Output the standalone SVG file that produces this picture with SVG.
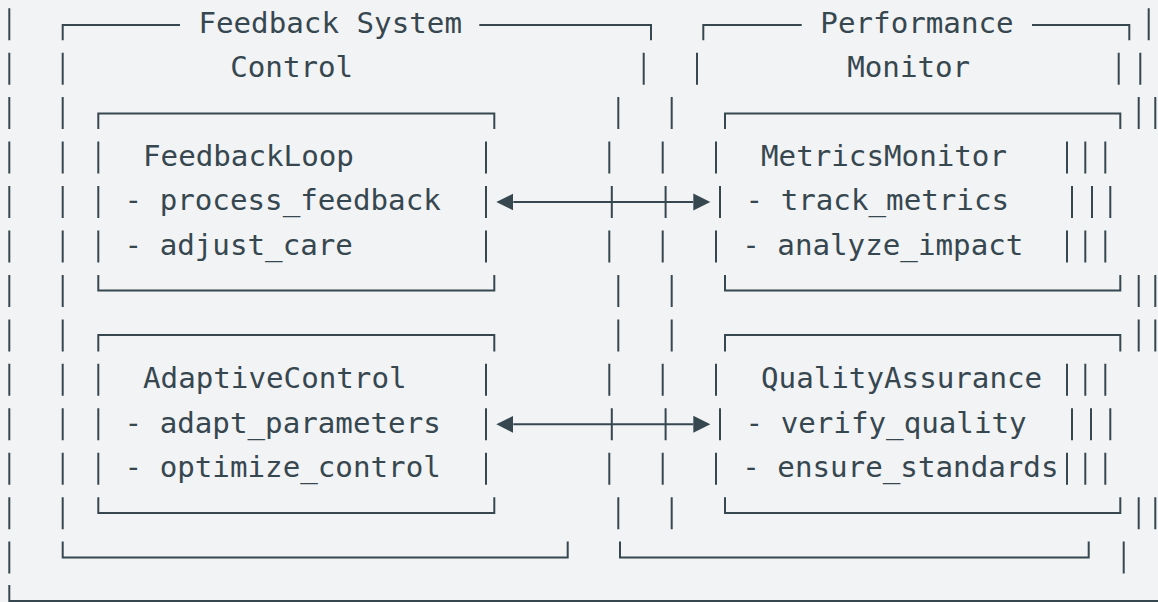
<svg xmlns="http://www.w3.org/2000/svg" width="1158" height="602" viewBox="0 0 1158 602">
  <style>
    .ln { fill: none; stroke: #37474f; stroke-width: 2; stroke-linecap: butt; }
    .tx { font-family: "DejaVu Sans Mono", "Liberation Mono", monospace; font-size: 29.2px; fill: #37474f; }
    .mid { text-anchor: middle; }
    .conn { stroke: #37474f; stroke-width: 2; fill: none; }
  </style>
  <defs>
    <marker id="arrow" markerUnits="userSpaceOnUse" markerWidth="18" markerHeight="18" viewBox="0 -9 18 18" refX="0" refY="0" orient="auto-start-reverse">
      <path d="M0,-8.5 L17,0 L0,8.5 z" fill="#37474f"/>
    </marker>
  </defs>
  <rect x="0" y="0" width="1158" height="602" fill="#f1f3f5"/>

  <g id="outer-frame">
    <path class="ln" d="M9.3 8.2V40.2 M9.3 52.7V84.7 M9.3 97.1V129.1 M9.3 141.6V173.6 M9.3 186V218 M9.3 230.5V262.5 M9.3 274.9V306.9 M9.3 319.4V351.4 M9.3 363.8V395.8 M9.3 408.3V440.3 M9.3 452.7V484.7 M9.3 497.2V529.2 M9.3 541.6V573.6 M9.3 585V601H1158"/>
    <path class="ln" d="M1148.7 8.2V40.2 M1140.3 52.7V84.7 M1155.3 97.1V129.1 M1105.3 141.6V173.6 M1110.3 186V218 M1105.3 230.5V262.5 M1155.3 274.9V306.9 M1155.3 319.4V351.4 M1105.3 363.8V395.8 M1110.3 408.3V440.3 M1105.3 452.7V484.7 M1155.3 497.2V529.2 M1123.7 541.6V573.6"/>
  </g>

  <g id="feedback-system-control">
    <path class="ln" d="M62.7 40.2V25H180 M479.3 25H651V40.2"/>
    <path class="ln" d="M62.7 52.7V84.7 M62.7 97.1V129.1 M62.7 141.6V173.6 M62.7 186V218 M62.7 230.5V262.5 M62.7 274.9V306.9 M62.7 319.4V351.4 M62.7 363.8V395.8 M62.7 408.3V440.3 M62.7 452.7V484.7 M62.7 497.2V529.2"/>
    <path class="ln" d="M643.7 52.7V84.7 M618.3 97.1V129.1 M609.3 141.6V173.6 M611.8 186V218 M609.3 230.5V262.5 M618.3 274.9V306.9 M618.3 319.4V351.4 M609.3 363.8V395.8 M611.8 408.3V440.3 M609.3 452.7V484.7 M618.3 497.2V529.2"/>
    <path class="ln" d="M62.7 541.6V557.5H567.7V541.6"/>
    <text class="tx mid" x="330.2" y="32.5">Feedback System</text>
    <text class="tx mid" x="291.7" y="77">Control</text>
  </g>

  <g id="performance-monitor">
    <path class="ln" d="M703.3 40.2V25H801.7 M1032 25H1129.3V40.2"/>
    <path class="ln" d="M697 52.7V84.7 M671.7 97.1V129.1 M662.7 141.6V173.6 M665.6 186V218 M662.7 230.5V262.5 M671.7 274.9V306.9 M671.7 319.4V351.4 M662.7 363.8V395.8 M665.6 408.3V440.3 M662.7 452.7V484.7 M671.7 497.2V529.2"/>
    <path class="ln" d="M1118.7 52.7V84.7 M1138.7 97.1V129.1 M1085.3 141.6V173.6 M1092 186V218 M1085.3 230.5V262.5 M1138.7 274.9V306.9 M1138.7 319.4V351.4 M1085.3 363.8V395.8 M1091 408.3V440.3 M1085.3 452.7V484.7 M1138.7 497.2V529.2"/>
    <path class="ln" d="M620 541.6V557.5H1088.7V541.6"/>
    <text class="tx mid" x="917" y="32.5">Performance</text>
    <text class="tx mid" x="908.7" y="77">Monitor</text>
  </g>

  <g id="feedback-loop">
    <path class="ln" d="M98.3 129.1V113.5H494.3V129.1 M98.3 141.6V173.6 M98.3 186V218 M98.3 230.5V262.5 M486 141.6V173.6 M486 186V218 M486 230.5V262.5 M98.3 274.9V290.5H494.3V274.9"/>
    <text class="tx" x="143" y="165.8">FeedbackLoop</text>
    <text class="tx" x="124.5" y="210.3">- process_feedback</text>
    <text class="tx" x="124.5" y="254.7">- adjust_care</text>
  </g>

  <g id="adaptive-control">
    <path class="ln" d="M98.3 351.4V335H494.3V351.4 M98.3 363.8V395.8 M98.3 408.3V440.3 M98.3 452.7V484.7 M486 363.8V395.8 M486 408.3V440.3 M486 452.7V484.7 M98.3 497.2V513H494.3V497.2"/>
    <text class="tx" x="143" y="388.1">AdaptiveControl</text>
    <text class="tx" x="124.5" y="432.5">- adapt_parameters</text>
    <text class="tx" x="124.5" y="477">- optimize_control</text>
  </g>

  <g id="metrics-monitor">
    <path class="ln" d="M725 129.1V113.5H1120.3V129.1 M716 141.6V173.6 M720 186V218 M716 230.5V262.5 M1067 141.6V173.6 M1072 186V218 M1067 230.5V262.5 M725 274.9V290.5H1120.3V274.9"/>
    <text class="tx" x="761" y="165.8">MetricsMonitor</text>
    <text class="tx" x="745.5" y="210.3">- track_metrics</text>
    <text class="tx" x="742.2" y="254.7">- analyze_impact</text>
  </g>

  <g id="quality-assurance">
    <path class="ln" d="M725 351.4V335H1120.3V351.4 M716 363.8V395.8 M720 408.3V440.3 M716 452.7V484.7 M1067 363.8V395.8 M1072 408.3V440.3 M1067 452.7V484.7 M725 497.2V513H1120.3V497.2"/>
    <text class="tx" x="761" y="388.1">QualityAssurance</text>
    <text class="tx" x="745.5" y="432.5">- verify_quality</text>
    <text class="tx" x="742.2" y="477">- ensure_standards</text>
  </g>

  <g id="connectors">
    <line class="conn" x1="513.3" y1="202" x2="693.3" y2="202" marker-start="url(#arrow)" marker-end="url(#arrow)"/>
    <line class="conn" x1="513.3" y1="424.3" x2="693.3" y2="424.3" marker-start="url(#arrow)" marker-end="url(#arrow)"/>
  </g>
</svg>
